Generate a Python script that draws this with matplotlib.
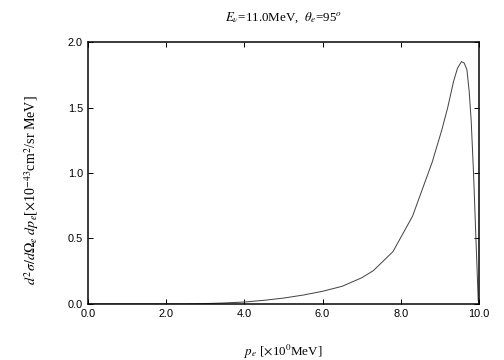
import numpy as np
import matplotlib
matplotlib.use("Agg")
import matplotlib.pyplot as plt

# electron momentum (x10^0 MeV) and cross section (x10^-43 cm^2/sr MeV)
p_e = [0.0, 2.0, 2.5, 3.0, 3.5, 4.0, 4.5, 5.0, 5.5, 6.0, 6.5, 7.0, 7.3, 7.8,
       8.3, 8.8, 9.05, 9.2, 9.35, 9.45, 9.55, 9.62, 9.69, 9.75, 9.80, 9.86,
       9.92, 9.98, 10.0]
xsec = [0.0, 0.0, 0.0, 0.003, 0.008, 0.015, 0.028, 0.045, 0.068, 0.097, 0.135,
        0.20, 0.255, 0.40, 0.67, 1.08, 1.33, 1.50, 1.70, 1.80, 1.85, 1.84, 1.79,
        1.62, 1.40, 1.0, 0.51, 0.03, 0.0]

xticks = [0, 2, 4, 6, 8, 10]
yticks = [0.0, 0.5, 1.0, 1.5, 2.0]

plt.rcParams['mathtext.fontset'] = 'stix'
serif = 'Liberation Serif'

fig = plt.figure(figsize=(7, 5), dpi=72)
ax = fig.add_axes([0.1746, 0.1556, 0.7758, 0.7277])

ax.plot(p_e, xsec, color='#444444', lw=1.0)

ax.set_xlim(0, 10)
ax.set_ylim(0, 2)
ax.set_xticks(xticks)
ax.set_yticks(yticks)
ax.set_xticklabels([f"{v:.1f}" for v in xticks], family='Liberation Sans', fontsize=11)
ax.set_yticklabels([f"{v:.1f}" for v in yticks], family='Liberation Sans', fontsize=11)
ax.tick_params(direction='in', length=5, width=1, top=True, right=True, pad=5)
for s in ax.spines.values():
    s.set_linewidth(1.5)

ax.set_title(r"$E_\nu$=11.0MeV,  $\theta_e$=95$^o$", family=serif, fontsize=13, pad=21)
ax.set_xlabel(r"$p_e$ [$\times$10$^0$MeV]", family=serif, fontsize=13, labelpad=24)
ax.set_ylabel(r"$d^2\sigma/d\Omega_e\ dp_e$[$\times$10$^{-43}$cm$^2$/sr MeV]",
              family=serif, fontsize=14)
ax.yaxis.set_label_coords(-0.12, 0.435)

fig.savefig("out.png", dpi=72)
